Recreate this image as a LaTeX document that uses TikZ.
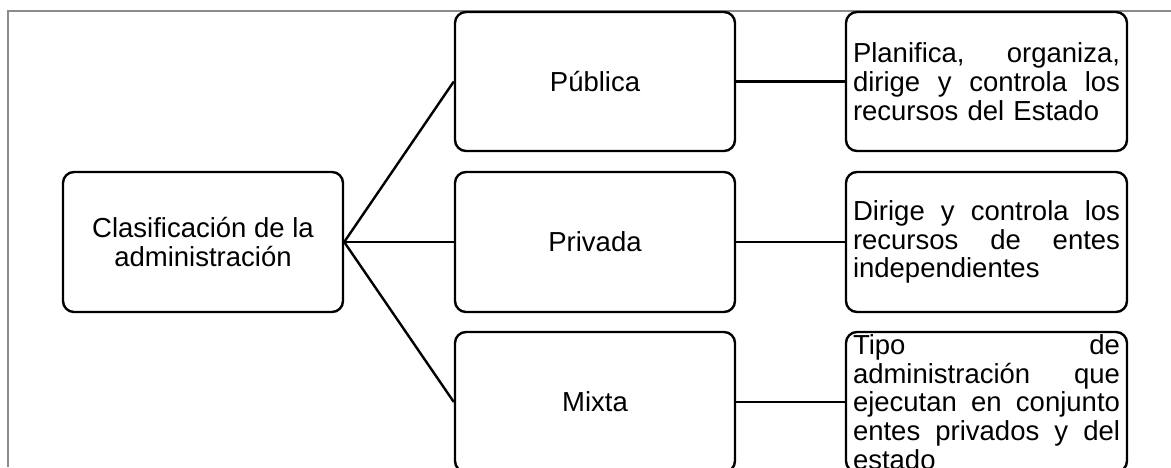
\documentclass[tikz,border=0pt]{standalone}
\usepackage{fontspec}
\setmainfont{Liberation Sans}
% a fully justified line of the description boxes (words split by \hfill)
\newcommand\jline[1]{\leavevmode\hbox to 267pt{#1}}
\begin{document}
\begin{tikzpicture}[x=1pt,y=1pt,
  box/.style={draw, line width=2.4pt, rounded corners=11pt,
    minimum width=280pt, minimum height=140pt, inner sep=0pt,
    font=\fontsize{27.5}{28.7}\selectfont, align=center},
  descbox/.style={box, minimum width=281pt, text width=267pt, align=left},
  link/.style={line width=2.4pt}]
\useasboundingbox (0,0) rectangle (1171,467);
% page frame
\draw[gray!90, line width=1.5pt] (8,0) -- (8,456) -- (1171,456);

\node[box] (root) at (203,225) {Clasificación de la\\administración};

\node[box, minimum height=139pt] (pub) at (595,385.5) {Pública};
\node[box] (priv) at (595,225) {Privada};
\node[box] (mix) at (595,65) {Mixta};

\node[descbox, minimum height=139pt] (dpub) at (986.5,385.5)
  {\jline{Planifica,\hfill organiza,}\\
   \jline{dirige\hfill y\hfill controla\hfill los}\\
   recursos del Estado};
\node[descbox] (dpriv) at (986.5,225)
  {\jline{Dirige\hfill y\hfill controla\hfill los}\\
   \jline{recursos\hfill de\hfill entes}\\
   independientes};
\node[descbox] (dmix) at (986.5,65)
  {\jline{Tipo\hfill de}\\
   \jline{administración\hfill que}\\
   \jline{ejecutan\hfill en\hfill conjunto}\\
   \jline{entes\hfill privados\hfill y\hfill del}\\
   estado};

\draw[link] (root.east) -- (pub.west);
\draw[link] (root.east) -- (priv.west);
\draw[link] (root.east) -- (mix.west);
\draw[link] (pub.east) -- (dpub.west);
\draw[link] (priv.east) -- (dpriv.west);
\draw[link] (mix.east) -- (dmix.west);
\end{tikzpicture}
\end{document}
